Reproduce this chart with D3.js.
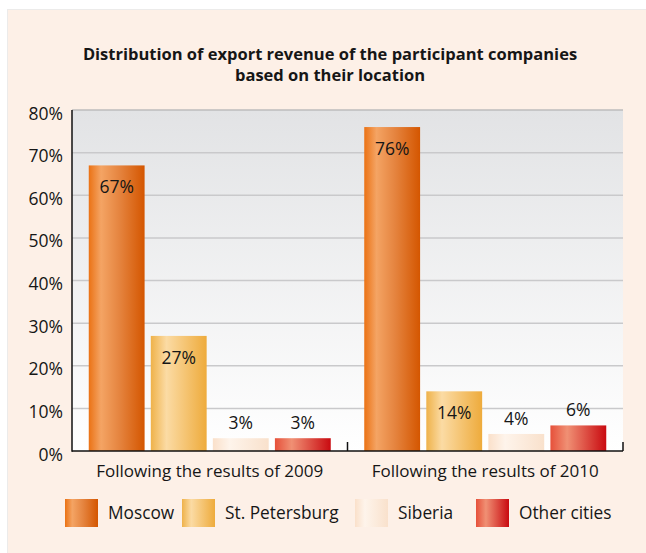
<!DOCTYPE html>
<html>
<head>
<meta charset="utf-8">
<script src="https://cdn.jsdelivr.net/npm/d3@7"></script>
<style>
  html, body { margin: 0; padding: 0; background: #ffffff; }
  svg text { font-family: "Open Sans", "Noto Sans", sans-serif; fill: #161616; }
</style>
</head>
<body>
<svg id="chart" width="646" height="553"></svg>
<script>
// data
var categories = ["Following the results of 2009", "Following the results of 2010"];
var seriesNames = ["Moscow", "St. Petersburg", "Siberia", "Other cities"];
var values2009 = [67, 27, 3, 3];
var values2010 = [76, 14, 4, 6];
var yTicks = [0, 10, 20, 30, 40, 50, 60, 70, 80];
var titleLines = ["Distribution of export revenue of the participant companies", "based on their location"];

// gradient stops for every series (left -> right)
var seriesStops = [
    [["0%", "#eb7214"], ["22%", "#f4a464"], ["55%", "#e5843f"], ["100%", "#d45600"]],
    [["0%", "#efb24a"], ["28%", "#fbdba4"], ["100%", "#eeab3c"]],
    [["0%", "#fae0ca"], ["30%", "#fef4eb"], ["100%", "#f9e1cc"]],
    [["0%", "#e6503a"], ["30%", "#f09074"], ["100%", "#c90a10"]]
];

var rows = categories.map(function(c, i){
    var v = i == 0 ? values2009 : values2010;
    return {cat: c, vals: seriesNames.map(function(s, j){ return {name: s, idx: j, value: v[j]}; })};
});

var svg = d3.select("#chart");
var defs = svg.append("defs");

// bar gradients
seriesStops.forEach(function(stops, i){
    var g = defs.append("linearGradient").attr("id", "grad" + i)
        .attr("x1", "0%").attr("x2", "100%").attr("y1", "0%").attr("y2", "0%");
    stops.forEach(function(s){ g.append("stop").attr("offset", s[0]).attr("stop-color", s[1]); });
});
var bg = defs.append("linearGradient").attr("id", "plotbg")
    .attr("x1", "0%").attr("x2", "0%").attr("y1", "0%").attr("y2", "100%");
bg.append("stop").attr("offset", "0%").attr("stop-color", "#e2e3e5");
bg.append("stop").attr("offset", "100%").attr("stop-color", "#ffffff");

// panel
svg.append("rect").attr("x", 7).attr("y", 9).attr("width", 639).attr("height", 544).attr("fill", "#ecebea");
svg.append("rect").attr("x", 8).attr("y", 10).attr("width", 638).attr("height", 543).attr("fill", "#fdf0e7");

// title
svg.append("g").selectAll("text")
    .data(titleLines)
    .enter().append("text")
    .attr("x", 330)
    .attr("y", function(d, i){ return 60 + i * 21; })
    .attr("text-anchor", "middle")
    .style("font-weight", "bold")
    .style("font-size", "16.5px")
    .text(function(d){ return d; });

var plot = {left: 72, right: 623, top: 110, bottom: 451};

var y = d3.scaleLinear().domain([0, 80]).range([plot.bottom, plot.top]);
var x0 = d3.scaleBand().domain(categories).range([plot.left, plot.right]).padding(0);
var x1 = d3.scaleBand().domain(seriesNames).range([0, x0.bandwidth()])
    .paddingInner(0.1).paddingOuter(0.27);

// plot background
svg.append("rect")
    .attr("x", plot.left).attr("y", plot.top)
    .attr("width", plot.right - plot.left).attr("height", plot.bottom - plot.top)
    .attr("fill", "url(#plotbg)");
svg.append("line")
    .attr("x1", plot.left).attr("x2", plot.right)
    .attr("y1", plot.top).attr("y2", plot.top)
    .attr("stroke", "#bdbdbd").attr("stroke-width", 1.5);

// grid lines
svg.append("g").selectAll("line")
    .data(yTicks.filter(function(t){ return t > 0 && t < 80; }))
    .enter().append("line")
    .attr("x1", plot.left).attr("x2", plot.right)
    .attr("y1", function(d){ return y(d); }).attr("y2", function(d){ return y(d); })
    .attr("stroke", "#c9c9cb").attr("stroke-width", 1.5);

// y labels
svg.append("g").selectAll("text")
    .data(yTicks)
    .enter().append("text")
    .attr("x", 63)
    .attr("y", function(d){ return y(d) + 9.5; })
    .attr("text-anchor", "end")
    .style("font-size", "17.5px")
    .text(function(d){ return d + "%"; });

// bars
var groups = svg.append("g").selectAll("g")
    .data(rows)
    .enter().append("g")
    .attr("transform", function(d){ return "translate(" + x0(d.cat) + ",0)"; });

groups.selectAll("rect")
    .data(function(d){ return d.vals; })
    .enter().append("rect")
    .attr("x", function(d){ return x1(d.name); })
    .attr("y", function(d){ return y(d.value); })
    .attr("width", x1.bandwidth())
    .attr("height", function(d){ return y(0) - y(d.value); })
    .attr("fill", function(d){ return "url(#grad" + d.idx + ")"; });

groups.selectAll("text")
    .data(function(d){ return d.vals; })
    .enter().append("text")
    .attr("x", function(d){ return x1(d.name) + x1.bandwidth() / 2; })
    .attr("y", function(d){ return d.value >= 10 ? y(d.value) + 28 : y(d.value) - 9; })
    .attr("text-anchor", "middle")
    .style("font-size", "17.5px")
    .text(function(d){ return d.value + "%"; });

// axes lines
svg.append("line")
    .attr("x1", plot.left).attr("x2", plot.left)
    .attr("y1", plot.top).attr("y2", plot.bottom + 0.75)
    .attr("stroke", "#111").attr("stroke-width", 1.5);
svg.append("line")
    .attr("x1", plot.left).attr("x2", plot.right)
    .attr("y1", plot.bottom).attr("y2", plot.bottom)
    .attr("stroke", "#111").attr("stroke-width", 1.5);
svg.append("g").selectAll("line")
    .data(categories)
    .enter().append("line")
    .attr("x1", function(d){ return x0(d) + x0.bandwidth(); })
    .attr("x2", function(d){ return x0(d) + x0.bandwidth(); })
    .attr("y1", plot.bottom - 9).attr("y2", plot.bottom)
    .attr("stroke", "#111").attr("stroke-width", 1.5);

// category labels
svg.append("g").selectAll("text")
    .data(categories)
    .enter().append("text")
    .attr("x", function(d){ return x0(d) + x0.bandwidth() / 2; })
    .attr("y", 477)
    .attr("text-anchor", "middle")
    .style("font-size", "17px")
    .text(function(d){ return d; });

// legend
var legendX = [65, 182, 355, 476];
var legend = svg.append("g").selectAll("g")
    .data(seriesNames)
    .enter().append("g")
    .attr("transform", function(d, i){ return "translate(" + legendX[i] + ",499)"; });
legend.append("rect")
    .attr("width", 33).attr("height", 28)
    .attr("fill", function(d, i){ return "url(#grad" + i + ")"; });
legend.append("text")
    .attr("x", 43).attr("y", 20)
    .style("font-size", "17.3px")
    .text(function(d){ return d; });
</script>
</body>
</html>
